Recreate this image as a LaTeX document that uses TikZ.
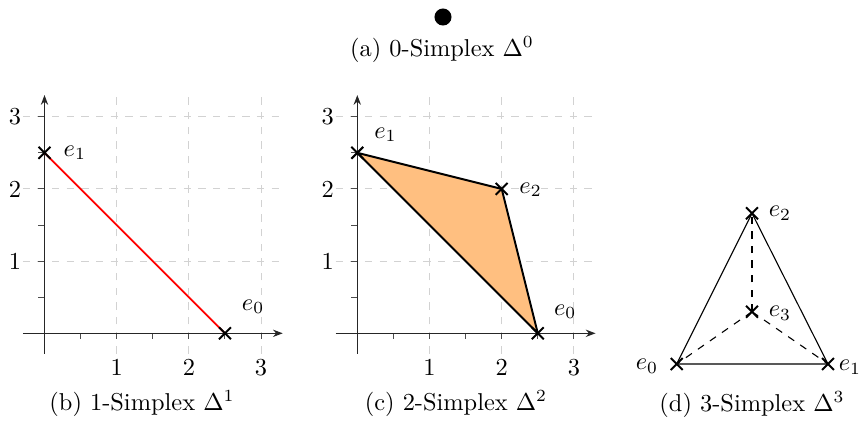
\documentclass[tikz,border=0pt]{standalone}
\usetikzlibrary{shapes.misc,arrows.meta}
\begin{document}
\begin{tikzpicture}[x=0.41pt,y=-0.41pt,
  gridline/.style={gray!35, dashed, line width=0.4pt},
  axisline/.style={black!85, line width=0.45pt, -{Stealth[length=4pt,width=3pt]}},
  tickmark/.style={black!70, line width=0.4pt},
  vtx/.style={cross out, draw, line width=0.8pt, minimum size=4.9pt, inner sep=0pt, outer sep=0pt},
  lbl/.style={inner sep=0pt},
  ticklbl/.style={inner sep=0pt},
  captext/.style={anchor=base, inner sep=0pt},
  edge3/.style={line width=0.45pt},
  hidden3/.style={line width=0.45pt, dashed}]
\useasboundingbox (0,0) rectangle (866,421);

% (a) 0-simplex
\node[circle, fill=black, minimum size=7pt, inner sep=0pt] (pa) at (443,17) {};
\node[captext] (capa) at (442,56) {(a) 0-Simplex $\Delta^0$};

% (b) 1-simplex
\begin{scope}[shift={(44.5,333.3)}, x=29.6pt, y=29.6pt]
  \foreach \v in {1,2,3} {
    \draw[gridline] (\v,-0.28) -- (\v,3.3);
    \draw[gridline] (-0.3,\v) -- (3.3,\v);
  }
  \foreach \v in {0.5,1,...,3} {
    \draw[tickmark] (\v,0) -- (\v,-0.085);
    \draw[tickmark] (0,\v) -- (-0.085,\v);
  }
  \coordinate (bxa) at (-0.3,0); \coordinate (bxb) at (3.3,0);
  \coordinate (bya) at (0,-0.28); \coordinate (byb) at (0,3.3);
  \draw[axisline] (bxa) -- (bxb);
  \draw[axisline] (bya) -- (byb);
  \foreach \v in {1,2,3} {
    \node[ticklbl] (bxl\v) at (\v,-0.47) {\v};
    \node[ticklbl] (byl\v) at (-0.41,\v) {\v};
  }
  \coordinate (b0) at (2.5,0);
  \coordinate (b1) at (0,2.5);
  \draw[red, line width=0.7pt] (b1) -- (b0);
  \node[vtx] (b0x) at (b0) {};
  \node[vtx] (b1x) at (b1) {};
  \node[lbl] (b0l) at (2.89,0.37) {$e_0$};
  \node[lbl] (b1l) at (0.42,2.5) {$e_1$};
\end{scope}
\node[captext] (capb) at (142,410) {(b) 1-Simplex $\Delta^1$};

% (c) 2-simplex
\begin{scope}[shift={(357.3,333.3)}, x=29.6pt, y=29.6pt]
  \foreach \v in {1,2,3} {
    \draw[gridline] (\v,-0.28) -- (\v,3.3);
    \draw[gridline] (-0.3,\v) -- (3.3,\v);
  }
  \foreach \v in {0.5,1,...,3} {
    \draw[tickmark] (\v,0) -- (\v,-0.085);
    \draw[tickmark] (0,\v) -- (-0.085,\v);
  }
  \coordinate (cxa) at (-0.3,0); \coordinate (cxb) at (3.3,0);
  \coordinate (cya) at (0,-0.28); \coordinate (cyb) at (0,3.3);
  \draw[axisline] (cxa) -- (cxb);
  \draw[axisline] (cya) -- (cyb);
  \foreach \v in {1,2,3} {
    \node[ticklbl] (cxl\v) at (\v,-0.47) {\v};
    \node[ticklbl] (cyl\v) at (-0.41,\v) {\v};
  }
  \coordinate (c0) at (2.5,0);
  \coordinate (c1) at (0,2.5);
  \coordinate (c2) at (2,2);
  \draw[fill=orange!50, draw=black, line width=0.8pt, line join=round] (c1) -- (c2) -- (c0) -- cycle;
  \node[vtx] (c0x) at (c0) {};
  \node[vtx] (c1x) at (c1) {};
  \node[vtx] (c2x) at (c2) {};
  \node[lbl] (c0l) at (2.88,0.3) {$e_0$};
  \node[lbl] (c1l) at (0.39,2.75) {$e_1$};
  \node[lbl] (c2l) at (2.4,1.99) {$e_2$};
\end{scope}
\node[captext] (capc) at (456,410) {(c) 2-Simplex $\Delta^2$};

% (d) 3-simplex
\coordinate (d0) at (676.7,364);
\coordinate (d1) at (828,364);
\coordinate (d2) at (752,213.3);
\coordinate (d3) at (752,311.7);
\draw[edge3] (d0) -- (d1) -- (d2) -- cycle;
\draw[hidden3] (d3) -- (d0);
\draw[hidden3] (d3) -- (d1);
\draw[hidden3] (d3) -- (d2);
\node[vtx] (d0x) at (d0) {};
\node[vtx] (d1x) at (d1) {};
\node[vtx] (d2x) at (d2) {};
\node[vtx] (d3x) at (d3) {};
\node[lbl] (d0l) at (647,366) {$e_0$};
\node[lbl] (d1l) at (850,367) {$e_1$};
\node[lbl] (d2l) at (780,213) {$e_2$};
\node[lbl] (d3l) at (780,313) {$e_3$};
\node[captext] (capd) at (752,411) {(d) 3-Simplex $\Delta^3$};
\end{tikzpicture}
\end{document}
